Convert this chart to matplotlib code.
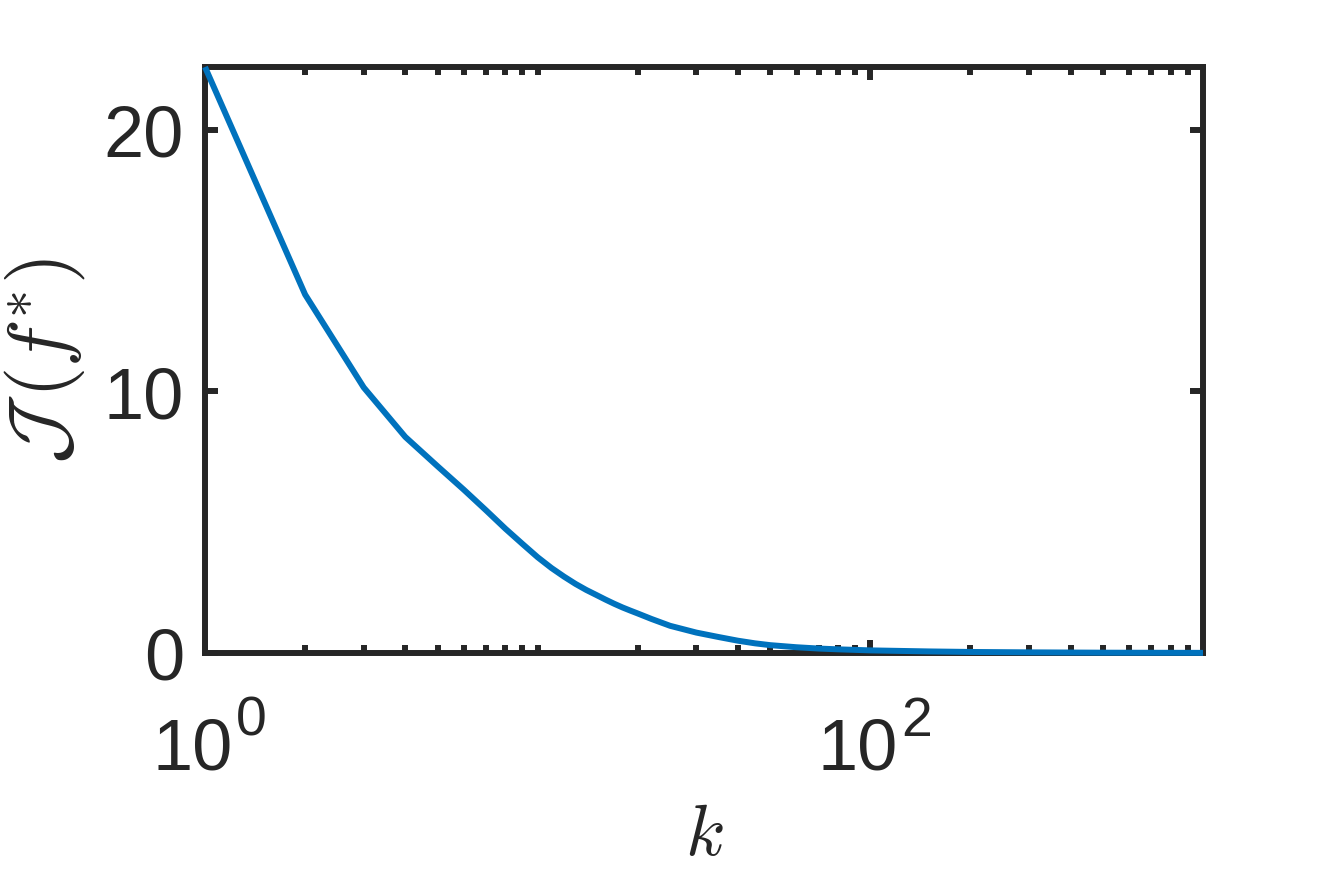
import matplotlib
matplotlib.use("Agg")
import matplotlib.pyplot as plt
from matplotlib.ticker import FixedLocator, NullFormatter

# values
k_vals = [1, 2, 3, 4, 5, 6, 7, 8, 9, 10, 11, 12, 13, 14, 15, 16, 17, 18, 19,
          20, 22, 25, 30, 35, 40, 45, 50, 60, 70, 80, 100, 150, 200, 300,
          500, 1000]
cost_vals = [22.4, 13.7, 10.15, 8.26, 7.14, 6.24, 5.45, 4.75, 4.17, 3.66,
             3.25, 2.92, 2.64, 2.41, 2.22, 2.04, 1.88, 1.74, 1.62, 1.51,
             1.3, 1.04, 0.78, 0.61, 0.47, 0.37, 0.3, 0.22, 0.17, 0.14, 0.1,
             0.06, 0.04, 0.025, 0.012, 0.005]

x_major = [1, 100]
x_major_base = ["10", "10"]
x_major_exp = ["0", "2"]
x_minor = [2, 3, 4, 5, 6, 7, 8, 9, 10, 20, 30, 40, 50, 60, 70, 80, 90,
           200, 300, 400, 500, 600, 700, 800, 900]
y_ticks = [0, 10, 20]
y_tick_labels = ["0", "10", "20"]

axis_color = "#262626"
line_color = "#0072BD"

plt.rcParams["font.family"] = ["Liberation Sans", "DejaVu Sans"]

fig = plt.figure(figsize=(13.29, 8.87), dpi=100)
ax = fig.add_axes([205 / 1329, 1 - 654 / 887, 998 / 1329, 586 / 887])

ax.plot(k_vals, cost_vals, color=line_color, linewidth=4.3,
        solid_capstyle="butt", solid_joinstyle="round", clip_on=False,
        zorder=3)

ax.set_xscale("log")
ax.set_xlim(k_vals[0], k_vals[-1])
ax.set_ylim(0, max(cost_vals))

ax.xaxis.set_major_locator(FixedLocator(x_major))
ax.xaxis.set_major_formatter(NullFormatter())
ax.xaxis.set_minor_locator(FixedLocator(x_minor))
ax.xaxis.set_minor_formatter(NullFormatter())
ax.set_yticks(y_ticks, labels=y_tick_labels)

for side in ["left", "right", "top", "bottom"]:
    ax.spines[side].set_linewidth(4.3)
    ax.spines[side].set_color(axis_color)
    ax.spines[side].set_zorder(2)

ax.tick_params(which="both", direction="in", top=True, right=True,
               color=axis_color, labelcolor=axis_color, width=4.3)
ax.tick_params(which="major", length=9.5, labelsize=52)
ax.tick_params(which="minor", length=6)
ax.tick_params(axis="y", which="major", pad=15)

# MATLAB-style 10^n labels with a large, high exponent
for xv, base, ex in zip(x_major, x_major_base, x_major_exp):
    ax.annotate(base, xy=(xv, 0), xycoords=("data", "axes fraction"),
                xytext=(28, -64), textcoords="offset pixels",
                ha="right", va="top", fontsize=52, color=axis_color,
                annotation_clip=False)
    ax.annotate(ex, xy=(xv, 0), xycoords=("data", "axes fraction"),
                xytext=(31, -42), textcoords="offset pixels",
                ha="left", va="top", fontsize=40, color=axis_color,
                annotation_clip=False)

ax.set_xlabel(r"$k$", fontsize=52, color=axis_color, math_fontfamily="cm")
ax.xaxis.set_label_coords(0.5, -0.255)
ax.set_ylabel(r"$\mathcal{J}\,(f^{*})$", fontsize=58, color=axis_color,
              math_fontfamily="cm")
ax.yaxis.set_label_coords(-0.118, 0.5)

fig.savefig("out.png", dpi=100)
plt.close(fig)
